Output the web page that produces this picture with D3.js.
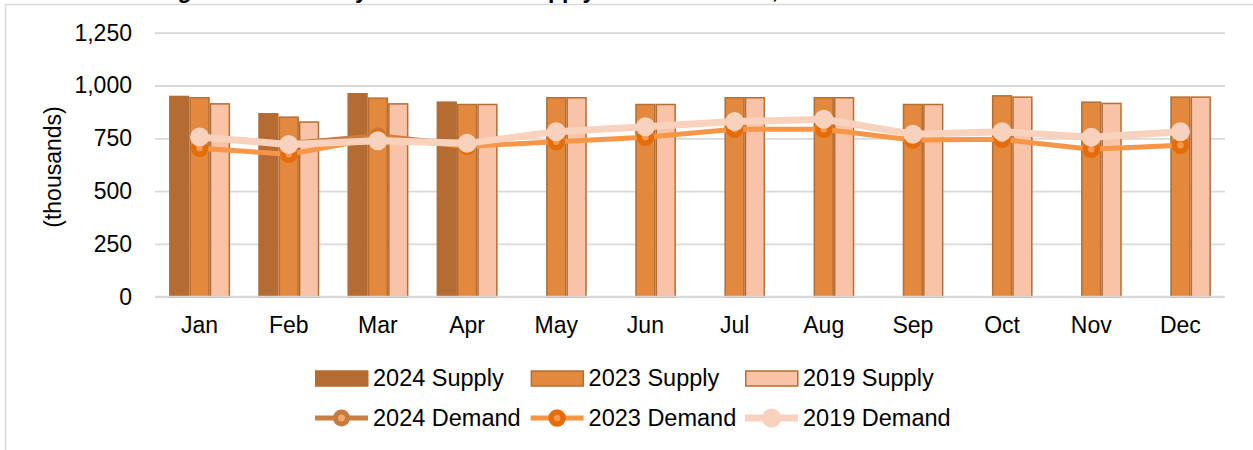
<!DOCTYPE html>
<html>
<head>
<meta charset="utf-8">
<script src="https://cdn.jsdelivr.net/npm/d3@7"></script>
<style>
  html, body { margin: 0; padding: 0; background: #fff; }
  svg { display: block; font-family: "Liberation Sans", Arial, sans-serif; }
</style>
</head>
<body>
<svg id="chart" width="1253" height="450"></svg>
<script>
// ---- data ----
const months = ["Jan","Feb","Mar","Apr","May","Jun","Jul","Aug","Sep","Oct","Nov","Dec"];
const supplySeries = ["2024 Supply","2023 Supply","2019 Supply"];
const demandSeries = ["2024 Demand","2023 Demand","2019 Demand"];
const supply2024 = [948, 866, 961, 921, null, null, null, null, null, null, null, null];
const supply2023 = [942, 850, 940, 910, 942, 910, 942, 942, 910, 951, 921, 945];
const supply2019 = [913, 827, 913, 910, 942, 910, 942, 942, 910, 945, 915, 945];
const demand2024 = [755, 726, 762, 716, null, null, null, null, null, null, null, null];
const demand2023 = [703, 674, 752, 712, 734, 755, 793, 793, 742, 745, 698, 717];
const demand2019 = [756, 721, 738, 726, 781, 805, 829, 840, 769, 781, 755, 781];
const yTicks = [0, 250, 500, 750, 1000, 1250];
const yTitle = "(thousands)";
const chartTitle = "Figure 1.1: Monthly Demand and Supply of Hotel Rooms, 2019 to 2024";

(function () {
// ---- styles ----
const FONT = 23;
const LEGFONT = 23.5;
const barFill = {"2024 Supply":"#B46C32","2023 Supply":"#E2893E","2019 Supply":"#F8C3A7"};
const barStroke = "#B46E36";
const lineStyle = {
  "2024 Demand": {line:"#CB7E44", w:5, r:6, fill:"#F0A86E", stroke:"#C77A3E", sw:5},
  "2023 Demand": {line:"#F79646", w:5, r:6, fill:"#F39A50", stroke:"#E46C0A", sw:5.5},
  "2019 Demand": {line:"#F9D2BE", w:7, r:9.5, fill:"#F9D2BE", stroke:"none", sw:0}
};

const svg = d3.select("#chart");

// frame
svg.append("rect").attr("x",5.5).attr("y",4.5).attr("width",1400).attr("height",600)
  .attr("fill","none").attr("stroke","#D9D9D9").attr("stroke-width",1.5);

// title (mostly cut off at top, as in the reference)
svg.append("text").attr("x",157).attr("y",-2).attr("font-size",FONT).attr("font-weight","bold")
  .attr("fill","#000").text(chartTitle);

const pl = 155, pr = 1225, pt = 32.7, pb = 296.7;
const x0 = d3.scaleBand().domain(months).range([pl, pr]).paddingInner(0).paddingOuter(0);
const groupW = 61;
const x1 = d3.scaleBand().domain(supplySeries).range([0, groupW]);
const y = d3.scaleLinear().domain([0, 1250]).range([pb, pt]);

// y axis with gridlines
const yAxis = svg.append("g").attr("transform", `translate(${pl},0)`)
  .call(d3.axisLeft(y).tickValues(yTicks).tickFormat(d3.format(",")).tickSize(-(pr-pl)).tickPadding(23));
yAxis.select(".domain").remove();
yAxis.selectAll(".tick line").attr("stroke","#D9D9D9").attr("stroke-width",1.8);
yAxis.selectAll(".tick text").attr("font-size",FONT).attr("fill","#000").attr("font-family","Liberation Sans, Arial, sans-serif");

// y title
svg.append("text").attr("transform","translate(53,167) rotate(-90)")
  .attr("text-anchor","middle").attr("dy","0.35em").attr("font-size",FONT).attr("fill","#000").text(yTitle);

// bars
const supplyData = {"2024 Supply":supply2024,"2023 Supply":supply2023,"2019 Supply":supply2019};
const barRows = [];
supplySeries.forEach(s => months.forEach((m,i) => { if (supplyData[s][i] != null) barRows.push({s, m, v: supplyData[s][i]}); }));
const off = (x0.bandwidth() - groupW) / 2;
svg.append("g").selectAll("rect").data(barRows).join("rect")
  .attr("x", d => x0(d.m) + off + x1(d.s) + 0.75)
  .attr("width", x1.bandwidth() - 1.5)
  .attr("y", d => y(d.v))
  .attr("height", d => y(0) - y(d.v))
  .attr("fill", d => barFill[d.s])
  .attr("stroke", d => d.s === "2024 Supply" ? barFill[d.s] : barStroke)
  .attr("stroke-width", 1.5);

// x axis labels
const xAxis = svg.append("g").attr("transform", `translate(0,${pb})`)
  .call(d3.axisBottom(x0).tickSize(0).tickPadding(20));
xAxis.select(".domain").remove();
xAxis.selectAll(".tick text").attr("font-size",FONT).attr("fill","#000").attr("font-family","Liberation Sans, Arial, sans-serif");

// baseline
svg.append("line").attr("x1",pl).attr("x2",pr).attr("y1",y(0)).attr("y2",y(0))
  .attr("stroke","#D9D9D9").attr("stroke-width",1.8);

// demand lines
const demandData = {"2024 Demand":demand2024,"2023 Demand":demand2023,"2019 Demand":demand2019};
const cx = m => x0(m) + x0.bandwidth()/2;
demandSeries.forEach(s => {
  const st = lineStyle[s];
  const pts = months.map((m,i) => ({m, v: demandData[s][i]})).filter(d => d.v != null);
  svg.append("path").datum(pts)
    .attr("d", d3.line().x(d => cx(d.m)).y(d => y(d.v)))
    .attr("fill","none").attr("stroke",st.line).attr("stroke-width",st.w).attr("stroke-linejoin","round");
  svg.append("g").selectAll("circle").data(pts).join("circle")
    .attr("cx", d => cx(d.m)).attr("cy", d => y(d.v)).attr("r", st.r)
    .attr("fill", st.fill).attr("stroke", st.stroke).attr("stroke-width", st.sw);
});

// legend
const legX = [315, 530.6, 745];
const leg1 = svg.append("g");
supplySeries.forEach((s,i) => {
  leg1.append("rect").attr("x",legX[i]+0.75).attr("y",371).attr("width",52).attr("height",15)
    .attr("fill",barFill[s]).attr("stroke", i===0 ? barFill[s] : barStroke).attr("stroke-width",1.5);
  leg1.append("text").attr("x",legX[i]+58).attr("y",378).attr("dy","0.35em").attr("font-size",LEGFONT).attr("fill","#000").text(s);
});
const leg2 = svg.append("g");
demandSeries.forEach((s,i) => {
  const st = lineStyle[s];
  leg2.append("line").attr("x1",legX[i]).attr("x2",legX[i]+53).attr("y1",418).attr("y2",418)
    .attr("stroke",st.line).attr("stroke-width",st.w);
  leg2.append("circle").attr("cx",legX[i]+26.5).attr("cy",418).attr("r",st.r)
    .attr("fill",st.fill).attr("stroke",st.stroke).attr("stroke-width",st.sw);
  leg2.append("text").attr("x",legX[i]+58).attr("y",418).attr("dy","0.35em").attr("font-size",LEGFONT).attr("fill","#000").text(s);
});
})();
</script>
</body>
</html>
